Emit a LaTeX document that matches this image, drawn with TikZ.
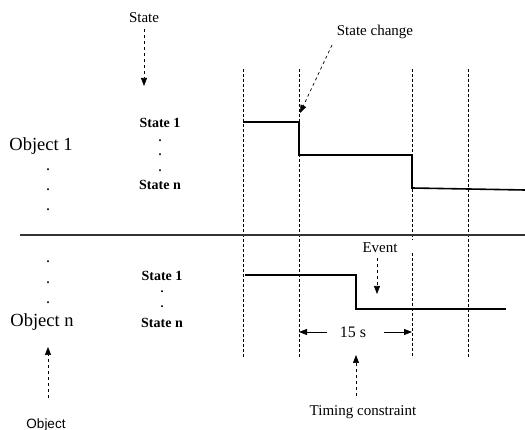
\documentclass[tikz,border=0pt]{standalone}
\usepackage{fontspec}
\setmainfont{Liberation Serif}
\newfontfamily\sansf{Liberation Sans}
\usetikzlibrary{arrows.meta}
\begin{document}
\begin{tikzpicture}[x=1pt,y=-1pt,
  grid/.style={densely dashed, line width=0.7pt},
  sig/.style={line width=1.6pt},
  ptr/.style={dashed, line width=0.7pt, -{Triangle[width=6pt,length=8pt]}},
  span/.style={line width=0.8pt, -{Triangle[width=6pt,length=8pt]}},
  lbl/.style={inner sep=0pt, font=\fontsize{15}{16}\selectfont},
  obj/.style={inner sep=0pt, font=\fontsize{18.5}{19}\selectfont},
  st/.style={inner sep=0pt, font=\bfseries\fontsize{14}{14}\selectfont},
  dot/.style={inner sep=0pt, font=\bfseries\fontsize{12}{12}\selectfont}]
\useasboundingbox (0,0) rectangle (525,430);
% vertical dashed grid
\foreach \i/\x in {1/243,2/299,3/412,4/468}{
  \coordinate (t\i) at (\x,69);
  \coordinate (b\i) at (\x,358);
}
\coordinate (g3a) at (412,240);
\coordinate (g3b) at (412,253);
\draw[grid] (t1) -- (b1);
\draw[grid] (t2) -- (b2);
\draw[grid] (t3) -- (g3a);
\draw[grid] (g3b) -- (b3);
\draw[grid] (t4) -- (b4);
% separator
\coordinate (sepL) at (20,235);
\coordinate (sepR) at (525,235);
\draw[line width=2pt, black!80] (sepL) -- (sepR);
% object 1 signal
\coordinate (a0) at (243,122);
\coordinate (a1) at (299,122);
\coordinate (a2) at (299,155);
\coordinate (a3) at (412,155);
\coordinate (a4) at (412,188);
\coordinate (a5) at (525,190);
\draw[sig] (a0) -- (a1) -- (a2) -- (a3) -- (a4) -- (a5);
% object n signal
\coordinate (c0) at (245,275);
\coordinate (c1) at (356,275);
\coordinate (c2) at (356,309);
\coordinate (c3) at (506,309);
\draw[sig] (c0) -- (c1) -- (c2) -- (c3);
% left labels
\node[obj] (o1) at (41,146) {Object 1};
\node[dot] (od1) at (48,170) {.};
\node[dot] (od2) at (48,190) {.};
\node[dot] (od3) at (48,210) {.};
\node[dot] (od4) at (48,262) {.};
\node[dot] (od5) at (48,283) {.};
\node[dot] (od6) at (48,303) {.};
\node[obj] (on) at (42,322) {Object n};
\node[st] (s1a) at (160,123) {State 1};
\node[dot] (sd1) at (160,141) {.};
\node[dot] (sd2) at (160,155) {.};
\node[dot] (sd3) at (160,171) {.};
\node[st] (sna) at (160,185) {State n};
\node[st] (s1b) at (162,276) {State 1};
\node[dot] (sd4) at (162,292) {.};
\node[dot] (sd5) at (162,307) {.};
\node[st] (snb) at (162,323) {State n};
% annotations
\node[lbl] (stl) at (144,18) {State};
\coordinate (stt) at (144,86);
\draw[ptr] (stl.south) ++(0,6) -- (stt);
\node[lbl] (scl) at (375,32) {State change};
\coordinate (scs) at (332,45);
\coordinate (sct) at (300,113);
\draw[ptr] (scs) -- (sct);
\node[lbl] (ev) at (380,248) {Event};
\coordinate (evs) at (377,258);
\coordinate (evt) at (377,294);
\draw[ptr] (evs) -- (evt);
\node[inner sep=0pt, font=\fontsize{16}{17}\selectfont] (fs) at (353,332) {15 s};
\coordinate (fsl) at (327,332);
\coordinate (fsr) at (384,332);
\draw[span] (fsl) -- (b2 |- fsl);
\draw[span] (fsr) -- (b3 |- fsr);
\node[lbl] (tc) at (363,412) {Timing constraint};
\coordinate (tcs) at (356,396);
\coordinate (tct) at (356,355);
\draw[ptr] (tcs) -- (tct);
\node[inner sep=0pt, font=\sansf\fontsize{13.5}{14}\selectfont] (objl) at (46,425) {Object};
\coordinate (obs) at (48,398);
\coordinate (obt) at (48,347);
\draw[ptr] (obs) -- (obt);
\end{tikzpicture}
\end{document}
